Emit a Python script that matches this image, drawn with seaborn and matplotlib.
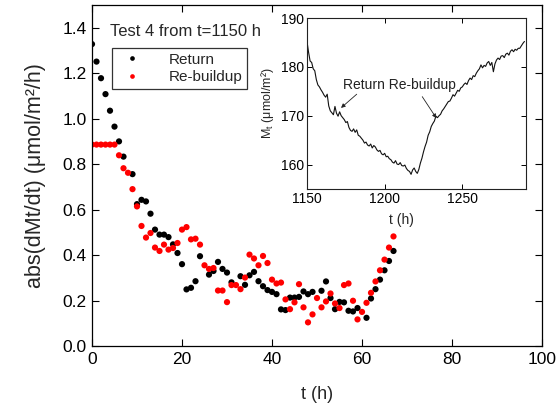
import matplotlib
matplotlib.use("Agg")
import matplotlib.pyplot as plt
import seaborn as sns
import numpy as np
import pandas as pd

# ---------------- data ----------------
return_t = [0, 1, 2, 3, 4, 5, 6, 7, 9, 10, 11, 12, 13, 14, 15, 16, 17, 18, 19, 20,
            21, 22, 23, 24, 26, 27, 28, 29, 30, 31, 33, 34, 35, 36, 37, 38, 39, 40,
            41, 42, 43, 44, 45, 46, 47, 48, 49, 51, 52, 53, 54, 55, 56, 57, 58, 59,
            61, 62, 63, 64, 65, 66, 67]
return_v = [1.328, 1.251, 1.178, 1.108, 1.035, 0.965, 0.900, 0.833, 0.756, 0.624,
            0.643, 0.636, 0.582, 0.512, 0.490, 0.490, 0.479, 0.447, 0.409, 0.360,
            0.249, 0.256, 0.285, 0.395, 0.314, 0.330, 0.370, 0.339, 0.323, 0.280,
            0.307, 0.269, 0.311, 0.326, 0.285, 0.263, 0.246, 0.238, 0.228, 0.161,
            0.158, 0.213, 0.213, 0.216, 0.240, 0.228, 0.238, 0.243, 0.284, 0.211,
            0.162, 0.194, 0.192, 0.155, 0.152, 0.167, 0.124, 0.209, 0.250, 0.292,
            0.333, 0.374, 0.418]

rebuild_t = list(range(0, 68))
rebuild_v = [0.886, 0.886, 0.886, 0.886, 0.886, 0.886, 0.839, 0.782, 0.762, 0.690,
             0.614, 0.528, 0.477, 0.497, 0.433, 0.418, 0.446, 0.424, 0.431, 0.453,
             0.512, 0.523, 0.469, 0.472, 0.446, 0.355, 0.339, 0.343, 0.244, 0.244,
             0.193, 0.268, 0.268, 0.250, 0.301, 0.402, 0.385, 0.355, 0.396, 0.365,
             0.292, 0.275, 0.279, 0.205, 0.162, 0.192, 0.272, 0.170, 0.104, 0.139,
             0.211, 0.170, 0.196, 0.231, 0.187, 0.167, 0.268, 0.275, 0.199, 0.117,
             0.150, 0.190, 0.234, 0.284, 0.333, 0.380, 0.433, 0.482]

series_names = ["Return", "Re-buildup"]
series_colors = ["#000000", "#ff0000"]

inset_t = list(range(1150, 1291))
inset_m = [185.2, 183.0, 181.2, 180.9, 179.6, 179.2, 177.4, 176.3, 175.9, 175.3,
           174.8, 174.2, 173.8, 174.4, 172.0, 171.0, 170.6, 170.2, 171.9, 170.5,
           169.9, 170.8, 170.0, 169.6, 169.2, 168.6, 168.8, 167.6, 167.0, 166.8,
           167.3, 166.6, 167.1, 166.0, 165.8, 165.4, 165.0, 164.4, 164.6, 164.0,
           163.8, 164.2, 163.4, 163.9, 163.6, 163.0, 162.7, 162.9, 162.2, 162.0,
           162.3, 161.6, 161.7, 161.2, 161.0, 160.5, 160.3, 160.8, 160.1, 160.0,
           160.4, 159.8, 159.7, 159.9, 159.2, 158.8, 158.6, 158.0, 158.9, 159.3,
           158.6, 158.2, 159.0, 160.3, 161.3, 162.6, 163.7, 164.6, 166.0, 166.7,
           167.8, 168.4, 168.9, 169.9, 169.6, 170.0, 170.3, 171.0, 171.4, 171.9,
           172.4, 172.9, 173.0, 173.6, 174.3, 174.0, 174.6, 175.2, 175.0, 175.7,
           175.9, 176.4, 176.7, 176.4, 177.2, 177.7, 177.4, 178.2, 178.0, 178.7,
           179.2, 179.6, 180.4, 179.8, 180.3, 180.1, 180.8, 181.1, 180.3, 180.9,
           179.0, 180.6, 181.4, 181.8, 181.5, 182.2, 182.3, 181.9, 182.6, 182.8,
           182.4, 183.2, 183.5, 183.1, 183.6, 183.4, 183.8, 183.8, 184.3, 184.8,
           185.2]

main_xticks = [0, 20, 40, 60, 80, 100]
main_yticks = [0.0, 0.2, 0.4, 0.6, 0.8, 1.0, 1.2, 1.4]
inset_xticks = [1150, 1200, 1250]
inset_yticks = [160, 170, 180, 190]

# ---------------- style ----------------
sns.set_theme(style="ticks")
plt.rcParams["font.family"] = ["Liberation Sans", "DejaVu Sans"]
plt.rcParams["axes.edgecolor"] = "black"
plt.rcParams["axes.linewidth"] = 0.9
plt.rcParams["xtick.direction"] = "in"
plt.rcParams["ytick.direction"] = "in"
plt.rcParams["xtick.color"] = "black"
plt.rcParams["ytick.color"] = "black"

df = pd.concat([
    pd.DataFrame({"t": return_t, "v": return_v, "series": series_names[0]}),
    pd.DataFrame({"t": rebuild_t, "v": rebuild_v, "series": series_names[1]}),
], ignore_index=True)

fig = plt.figure(figsize=(5.56, 4.03), dpi=100)
ax = fig.add_axes([92 / 556, 1 - 346 / 403, 450 / 556, 341 / 403])

sns.scatterplot(data=df, x="t", y="v", hue="series", hue_order=series_names,
                palette=series_colors, s=20, linewidth=0, marker="o", ax=ax,
                legend=True)

ax.set_xlim(0, 100)
ax.set_ylim(0, 1.5)
ax.set_xticks(main_xticks)
ax.set_yticks(main_yticks)
ax.set_yticklabels([f"{v:.1f}" for v in main_yticks])
ax.tick_params(axis="both", which="major", labelsize=12.5, length=5, width=0.8,
               top=True, right=True, pad=4)
ax.set_xlabel("t (h)", fontsize=13, labelpad=14)
ax.set_ylabel("abs(dMt/dt) (μmol/m²/h)", fontsize=15.5, labelpad=12)

ax.text(0.04, 0.921, "Test 4 from t=1150 h", transform=ax.transAxes,
        fontsize=12, ha="left", va="center")

leg = ax.legend(loc="upper left", bbox_to_anchor=(0.044, 0.874), fontsize=11,
                frameon=True, fancybox=False, borderpad=0.3, handletextpad=1.4,
                labelspacing=0.25, markerscale=0.75, handlelength=2.0,
                borderaxespad=0)
leg.get_frame().set_edgecolor("#333333")
leg.get_frame().set_linewidth(0.9)
leg.get_frame().set_alpha(1)

# ---------------- inset ----------------
ins = fig.add_axes([307 / 556, 1 - 189 / 403, 219 / 556, 171 / 403])
ins.set_facecolor("white")
sns.lineplot(x=inset_t, y=inset_m, color="#111111", linewidth=0.8, ax=ins)
ins.set_xlim(1150, 1291)
ins.set_ylim(155, 190)
ins.set_xticks(inset_xticks)
ins.set_yticks(inset_yticks)
ins.tick_params(axis="both", labelsize=10, length=3.5, width=0.7,
                top=True, right=True, pad=2)
for sp in ins.spines.values():
    sp.set_linewidth(0.8)
    sp.set_color("#222222")
ins.set_xlabel("t (h)", fontsize=10)
ins.xaxis.set_label_coords(0.43, -0.14)
ins.set_ylabel("M$_\\mathregular{t}$ (μmol/m²)", fontsize=9, labelpad=4)

ins.text(1209.5, 176.3, "Return Re-buildup", fontsize=10, ha="center",
         va="center", color="#222222")
ins.annotate("", xy=(1171.9, 171.6), xytext=(1182, 174.4),
             arrowprops=dict(arrowstyle="-|>", lw=0.6, color="#222222",
                             mutation_scale=6, shrinkA=0, shrinkB=0))
ins.annotate("", xy=(1233.3, 169.5), xytext=(1224.2, 173.9),
             arrowprops=dict(arrowstyle="-|>", lw=0.6, color="#222222",
                             mutation_scale=6, shrinkA=0, shrinkB=0))

fig.savefig("out.png", dpi=100)
